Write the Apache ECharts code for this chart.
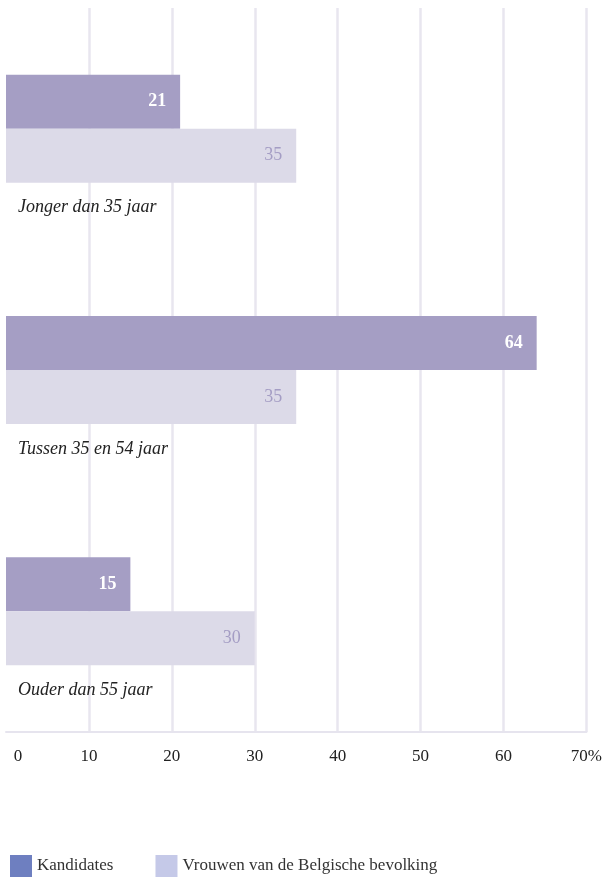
<!DOCTYPE html>
<html>
<head>
<meta charset="utf-8">
<script src="https://cdn.jsdelivr.net/npm/echarts@6/dist/echarts.min.js"></script>
<style>
  html, body { margin: 0; padding: 0; background: #fff; }
  #chart { width: 605px; height: 880px; }
</style>
</head>
<body>
<div id="chart"></div>
<script>
// categories top to bottom
const categories = ['Jonger dan 35 jaar', 'Tussen 35 en 54 jaar', 'Ouder dan 55 jaar']
const seriesNames = ['Kandidates', 'Vrouwen van de Belgische bevolking']
const kandidates = [21, 64, 15]
const vrouwen = [35, 35, 30]
const xTicks = [0, 10, 20, 30, 40, 50, 60, 70]

const font = 'Liberation Serif'
const chart = echarts.init(document.getElementById('chart'))

chart.setOption({
  animation: false,
  textStyle: { fontFamily: font },
  grid: { left: 6, right: 18, top: 8, bottom: 148 },
  legend: {
    left: 5,
    top: 850,
    itemWidth: 22,
    itemHeight: 22,
    itemGap: 42,
    icon: 'rect',
    textStyle: { fontFamily: font, fontSize: 17, color: '#333' },
    data: [
      { name: seriesNames[0], itemStyle: { color: '#6e7fc0' } },
      { name: seriesNames[1], itemStyle: { color: '#c5c9e8' } }
    ]
  },
  xAxis: {
    type: 'value',
    min: xTicks[0],
    max: xTicks[xTicks.length - 1],
    interval: 10,
    axisLine: { show: true, lineStyle: { color: '#e6e4ee', width: 2 } },
    axisTick: { show: false },
    splitLine: {
      show: true,
      showMinLine: false,
      lineStyle: { color: '#e8e6ef', width: 2.5 }
    },
    axisLabel: {
      margin: 16,
      fontSize: 17,
      color: '#222',
      fontFamily: font,
      formatter: v => {
        if (v === 0) return '{z|0}'
        if (v === 70) return '70%'
        return String(v)
      },
      rich: {
        z: { padding: [0, 0, 0, 24], fontSize: 17, fontFamily: font, color: '#222' }
      }
    }
  },
  yAxis: {
    type: 'category',
    data: categories,
    inverse: true,
    axisLine: { show: false },
    axisTick: { show: false },
    splitLine: { show: false },
    axisLabel: {
      inside: true,
      margin: 12,
      formatter: v => '{c|' + v + '}',
      rich: {
        c: {
          fontFamily: font,
          fontStyle: 'italic',
          fontSize: 18,
          color: '#222',
          padding: [158, 0, 0, 0]
        }
      }
    },
    z: 10
  },
  series: [
    {
      name: seriesNames[0],
      type: 'bar',
      data: kandidates,
      barWidth: 54,
      barGap: '0%',
      itemStyle: { color: '#a59ec4' },
      label: {
        show: true,
        position: 'insideRight',
        distance: 14,
        color: '#fff',
        fontFamily: font,
        fontSize: 18,
        fontWeight: 'bold'
      }
    },
    {
      name: seriesNames[1],
      type: 'bar',
      data: vrouwen,
      barWidth: 54,
      barGap: '0%',
      itemStyle: { color: '#dcdae8' },
      label: {
        show: true,
        position: 'insideRight',
        distance: 14,
        color: '#a49dc4',
        fontFamily: font,
        fontSize: 18
      }
    }
  ]
})
</script>
</body>
</html>
